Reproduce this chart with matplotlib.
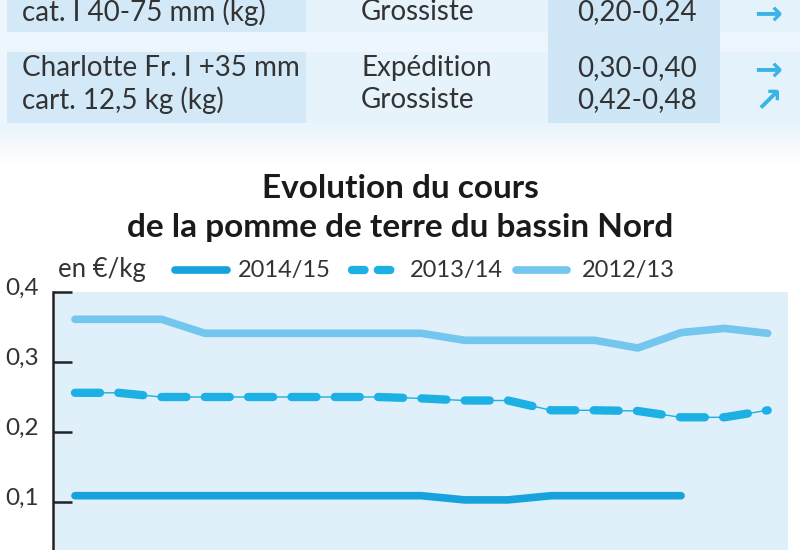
import numpy as np
import matplotlib
matplotlib.use("Agg")
import matplotlib.pyplot as plt
from matplotlib import font_manager
from matplotlib.patches import Rectangle
from matplotlib.lines import Line2D
from matplotlib.ticker import FuncFormatter
from matplotlib.transforms import ScaledTranslation

available = {f.name for f in font_manager.fontManager.ttflist}


def pick(*names):
    for n in names:
        if n in available:
            return n
    return "DejaVu Sans"


FONT = pick("Liberation Sans Narrow", "Lato", "Open Sans")
plt.rcParams["font.family"] = [FONT, "DejaVu Sans"]

# table (top, partly cut off)
table_col1 = ["cat. I 40-75 mm (kg)", "Charlotte Fr. I +35 mm", "cart. 12,5 kg (kg)"]
table_col2 = ["Grossiste", "Expédition", "Grossiste"]
table_col3 = ["0,20-0,24", "0,30-0,40", "0,42-0,48"]
table_trend = ["→", "→", "↗"]

# chart data, in €/kg, one point per week
weeks = list(range(17))
prices_2014_15 = [0.109, 0.109, 0.109, 0.109, 0.109, 0.109, 0.109, 0.109, 0.109,
                  0.103, 0.103, 0.109, 0.109, 0.109, 0.109]
prices_2013_14 = [0.256, 0.256, 0.25, 0.25, 0.25, 0.25, 0.25, 0.25, 0.248,
                  0.245, 0.245, 0.231, 0.231, 0.23, 0.221, 0.221, 0.231]
prices_2012_13 = [0.361, 0.361, 0.361, 0.341, 0.341, 0.341, 0.341, 0.341, 0.341,
                  0.331, 0.331, 0.331, 0.331, 0.32, 0.342, 0.348, 0.341]
series_labels = ["2014/15", "2013/14", "2012/13"]
y_ticks = [0.1, 0.2, 0.3, 0.4]

C_DARK = "#16a2dc"
C_DASH = "#1cb0e4"
C_LIGHT = "#73c6ee"
TXT = "#333333"

fig = plt.figure(figsize=(8, 5.5), dpi=100)
fig.patch.set_facecolor("white")

# background layer in pixel coordinates
bg = fig.add_axes([0, 0, 1, 1])
bg.axis("off")

bg.add_patch(Rectangle((0, 0), 800, 123, color="#edf6fc", lw=0))
grad = np.linspace(0, 1, 50).reshape(-1, 1)
bg.imshow(grad, extent=(0, 800, 165, 123), cmap=matplotlib.colors.LinearSegmentedColormap.from_list(
    "g", ["#e9f4fc", "#ffffff"]), aspect="auto", zorder=0)
bg.set_xlim(0, 800)
bg.set_ylim(550, 0)
for top, h in [(0, 32), (52, 71)]:
    bg.add_patch(Rectangle((7, top), 299, h, color="#d3e9f7", lw=0))
    bg.add_patch(Rectangle((306, top), 242, h, color="#e6f3fb", lw=0))
    bg.add_patch(Rectangle((720, top), 80, h, color="#e4f2fb", lw=0))
bg.add_patch(Rectangle((548, 0), 172, 123, color="#cee6f6", lw=0))

row_y = [12, 68, 100]
for i, y in enumerate(row_y):
    bg.text(22, y, table_col1[i], fontsize=20, color=TXT, va="center", ha="left")
    bg.text(361, y, table_col2[i], fontsize=20, color=TXT, va="center", ha="left")
    bg.text(577, y, table_col3[i], fontsize=20, color=TXT, va="center", ha="left")
    bg.text(768, y + 2, table_trend[i], fontsize=24, color="#3ab3e6", va="center",
            ha="center", family="DejaVu Sans", fontweight="bold")

# title
bg.text(400, 188, "Evolution du cours", fontsize=24, fontweight="bold",
        color="#1a1a1a", ha="center", va="center")
bg.text(400, 227, "de la pomme de terre du bassin Nord", fontsize=24,
        fontweight="bold", color="#1a1a1a", ha="center", va="center")

# legend
bg.text(58, 270, "en €/kg", fontsize=18.5, color=TXT, ha="left", va="center")
styles = [
    dict(color=C_DARK, lw=5.5, solid_capstyle="round"),
    dict(color=C_DASH, lw=6, dashes=(3, 2.2), dash_capstyle="round"),
    dict(color=C_LIGHT, lw=5.5, solid_capstyle="round"),
]
sample_styles = [styles[0], dict(styles[1], dashes=(1.5, 1.6)), styles[2]]
samples = [(175, 227), (352, 393), (516, 567)]
label_x = [238, 410, 582]
for (x0, x1), lx, st, lab in zip(samples, label_x, sample_styles, series_labels):
    bg.add_line(Line2D([x0, x1], [270, 270], **st))
    bg.text(lx, 270, lab, fontsize=17, color=TXT, ha="left", va="center")

# chart
ax = fig.add_axes([53 / 800, 0, (788 - 53) / 800, (550 - 292) / 550])
ax.set_facecolor("#dff0fb")
ax.plot(weeks[:len(prices_2013_14)], prices_2013_14, color=C_DASH, lw=1, zorder=2)
ax.plot(weeks[:len(prices_2014_15)], prices_2014_15, **styles[0], zorder=3)
ax.plot(weeks[:len(prices_2013_14)], prices_2013_14, **styles[1], zorder=3)
ax.plot(weeks[:len(prices_2012_13)], prices_2012_13, **styles[2], zorder=3)

ax.set_xlim(-0.508, 16.47)
ax.set_ylim(0.4 - 258 / 700, 0.4)
for s in ["top", "right", "bottom"]:
    ax.spines[s].set_visible(False)
ax.spines["left"].set_color("#222222")
ax.spines["left"].set_linewidth(1.8)
ax.set_xticks([])
ax.set_yticks(y_ticks)
ax.yaxis.set_major_formatter(FuncFormatter(lambda v, p: f"{v:.1f}".replace(".", ",")))
ax.tick_params(axis="y", direction="in", length=14, width=1.8, color="#222222",
               labelsize=17.5, labelcolor=TXT, pad=10)
off = ScaledTranslation(0, 6 / 100, fig.dpi_scale_trans)
for t in ax.yaxis.get_major_ticks():
    t.label1.set_transform(t.label1.get_transform() + off)

fig.savefig("out.png", dpi=100)
